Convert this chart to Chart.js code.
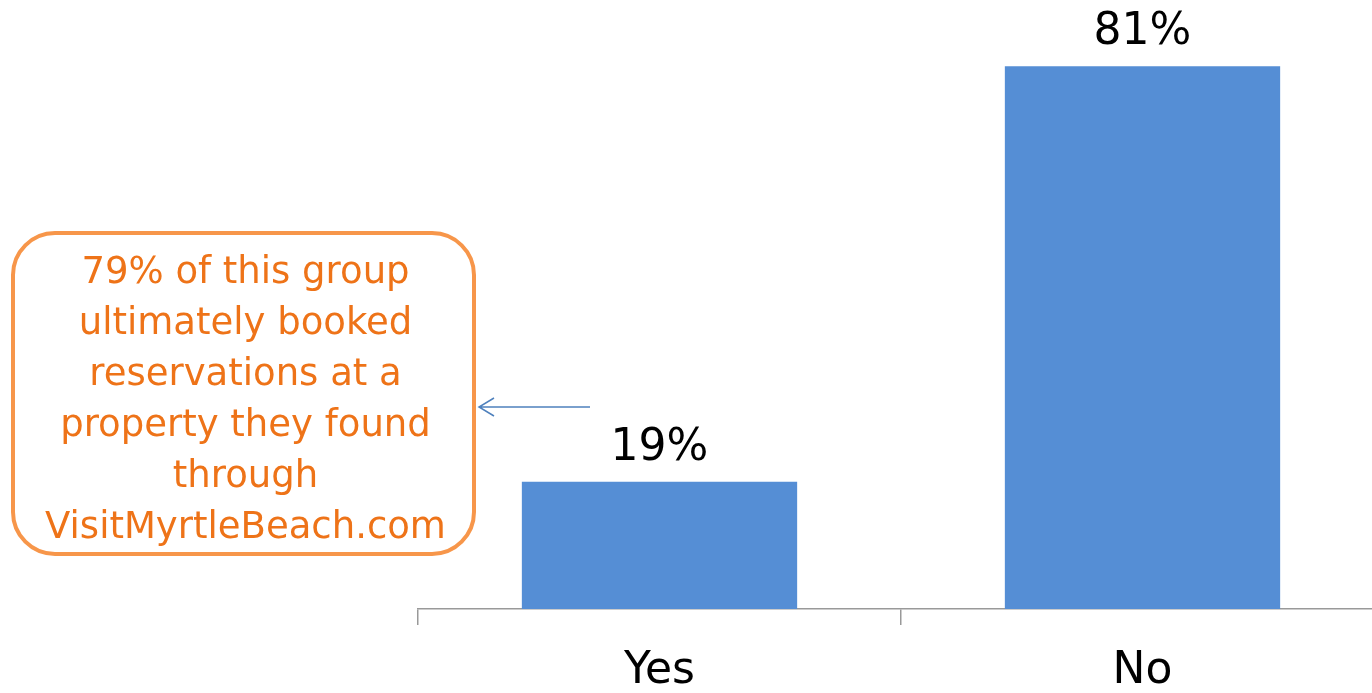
<!DOCTYPE html>
<html>
<head>
<meta charset="utf-8">
<script src="https://cdn.jsdelivr.net/npm/chart.js@4/dist/chart.umd.min.js"></script>
<style>
    html, body { margin: 0; padding: 0; background: #fff; overflow: hidden; }
    #wrap { position: relative; width: 1392px; height: 693px; }
</style>
</head>
<body>
<div id="wrap"><canvas id="bookChart"></canvas></div>
<script>
/* ---------- Veri ---------- */
const categories = ['Yes', 'No'];
const shares = [19, 81];
const noteLines = [
    '79% of this group',
    'ultimately booked',
    'reservations at a',
    'property they found',
    'through',
    'VisitMyrtleBeach.com'
];

const FONT = "'DejaVu Sans', sans-serif";

/* ---------- Değer etiketleri ---------- */
const valueLabels = {
    id: 'valueLabels',
    afterDatasetsDraw(chart) {
        const ctx = chart.ctx;
        const meta = chart.getDatasetMeta(0);
        ctx.save();
        ctx.font = '44px ' + FONT;
        ctx.fillStyle = '#000';
        ctx.textAlign = 'center';
        ctx.textBaseline = 'alphabetic';
        meta.data.forEach((bar, i) => {
            ctx.fillText(shares[i] + '%', bar.x, bar.y - 22);
        });
        ctx.restore();
    }
};

/* ---------- Açıklama kutusu ve ok ---------- */
const noteBox = {
    id: 'noteBox',
    afterDraw(chart) {
        const ctx = chart.ctx;
        ctx.save();
        // kutu
        const x = 13, y = 233, w = 461, h = 321, r = 42;
        ctx.beginPath();
        ctx.roundRect(x, y, w, h, r);
        ctx.lineWidth = 4;
        ctx.strokeStyle = '#F7964A';
        ctx.stroke();

        // metin
        ctx.font = '37px ' + FONT;
        ctx.fillStyle = '#EE7318';
        ctx.textAlign = 'center';
        ctx.textBaseline = 'alphabetic';
        noteLines.forEach((line, i) => {
            ctx.fillText(line, x + w / 2 + 2, 283 + i * 51);
        });

        // ok
        const ay = 407;
        ctx.strokeStyle = '#4F81BD';
        ctx.lineWidth = 1.5;
        ctx.beginPath();
        ctx.moveTo(590, ay);
        ctx.lineTo(479, ay);
        ctx.moveTo(494, ay - 9);
        ctx.lineTo(479, ay);
        ctx.lineTo(494, ay + 9);
        ctx.stroke();
        ctx.restore();
    }
};

/* ---------- Grafik ---------- */
const ctx = document.getElementById('bookChart').getContext('2d');
new Chart(ctx, {
    type: 'bar',
    data: {
        labels: categories,
        datasets: [{
            data: shares,
            backgroundColor: '#558ED5',
            categoryPercentage: 1,
            barPercentage: 0.57
        }]
    },
    options: {
        responsive: true,
        maintainAspectRatio: false,
        animation: false,
        layout: { padding: { left: 418, right: 8, top: 6, bottom: 0 } },
        plugins: { legend: { display: false }, tooltip: { enabled: false } },
        scales: {
            x: {
                grid: {
                    offset: true,
                    drawOnChartArea: false,
                    drawTicks: true,
                    tickLength: 16,
                    color: '#999999',
                    lineWidth: 1.5
                },
                border: { display: true, color: '#999999', width: 1.5 },
                ticks: {
                    color: '#000',
                    font: { family: FONT, size: 44 },
                    padding: 20
                },
                afterFit(scale) { scale.height = 84; }
            },
            y: {
                display: false,
                min: 0,
                max: 90
            }
        }
    },
    plugins: [valueLabels, noteBox]
});
</script>
</body>
</html>
